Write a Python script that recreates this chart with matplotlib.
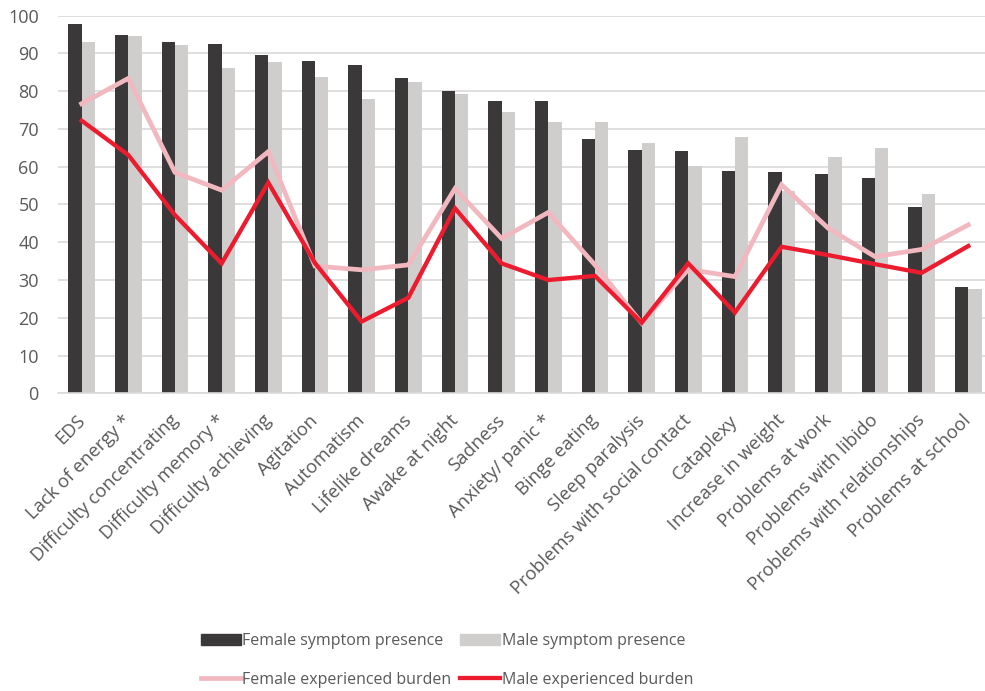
import numpy as np
import matplotlib.pyplot as plt
import matplotlib.transforms as mtransforms
from matplotlib.lines import Line2D
from matplotlib.patches import Patch

plt.rcParams['font.family'] = ['Open Sans', 'DejaVu Sans']

# symptom categories
categories = ["EDS", "Lack of energy *", "Difficulty concentrating", "Difficulty memory *",
              "Difficulty achieving", "Agitation", "Automatism", "Lifelike dreams",
              "Awake at night", "Sadness", "Anxiety/ panic *", "Binge eating",
              "Sleep paralysis", "Problems with social contact", "Cataplexy",
              "Increase in weight", "Problems at work", "Problems with libido",
              "Problems with relationships", "Problems at school"]

female_presence = [97.8, 95.0, 93.1, 92.4, 89.5, 87.9, 86.9, 83.5, 80.1, 77.3,
                   77.3, 67.3, 64.4, 64.2, 58.9, 58.5, 58.2, 56.9, 49.3, 28.1]
male_presence = [93.0, 94.5, 92.2, 86.1, 87.7, 83.8, 77.9, 82.4, 79.3, 74.4,
                 71.8, 71.8, 66.3, 60.3, 67.9, 53.6, 62.6, 64.9, 52.7, 27.5]
female_burden = [76.7, 83.4, 58.5, 53.8, 64.0, 33.7, 32.7, 34.0, 54.2, 41.0,
                 47.9, 34.0, 18.6, 32.8, 30.9, 55.2, 43.7, 36.2, 38.1, 44.6]
male_burden = [72.2, 63.1, 47.2, 34.4, 55.8, 34.5, 19.0, 25.3, 49.0, 34.4,
               30.0, 31.1, 18.7, 34.4, 21.4, 38.8, 36.6, 34.2, 31.9, 39.0]

dark = "#3a3839"
light = "#d0cecd"
pink = "#f2b8c0"
red = "#ed1b2e"
txt = "#595959"

fig = plt.figure(figsize=(9.85, 6.91), dpi=100)
ax = fig.add_axes([58.3/985, 1-393.3/691, (991.6-58.3)/985, (393.3-15.7)/691])

x = np.arange(len(categories))
w = 0.286
ax.bar(x - w/2, female_presence, w, color=dark, zorder=2)
ax.bar(x + w/2, male_presence, w, color=light, zorder=2)
ax.plot(x, female_burden, color=pink, lw=3.4, zorder=3, solid_joinstyle='miter')
ax.plot(x, male_burden, color=red, lw=3.1, zorder=4, solid_joinstyle='miter')

ax.set_xlim(-0.5, len(categories) - 0.5)
ax.set_ylim(0, 100)
ax.set_yticks(np.arange(0, 101, 10))
ax.yaxis.grid(True, color="#d9d9d9", lw=1.2, zorder=0)
ax.set_axisbelow(True)
for s in ["top", "right", "left"]:
    ax.spines[s].set_visible(False)
ax.spines["bottom"].set_color("#d9d9d9")
ax.spines["bottom"].set_linewidth(1.2)
ax.tick_params(axis="y", length=0, pad=14, labelsize=13, labelcolor=txt)
ax.tick_params(axis="x", length=0, pad=13)
ax.set_xticks(x)
ax.set_xticklabels(categories, rotation=45, ha="right", va="top",
                   rotation_mode="anchor", fontsize=13.3, color=txt)
shift = mtransforms.ScaledTranslation(-0.06, 0, fig.dpi_scale_trans)
for lab in ax.get_xticklabels():
    lab.set_transform(lab.get_transform() + shift)

# column-major order so rows read bars / lines
handles = [Patch(color=dark), Line2D([], [], color=pink, lw=3.4),
           Patch(color=light), Line2D([], [], color=red, lw=3.1)]
labels = ["Female symptom presence", "Female experienced burden",
          "Male symptom presence", "Male experienced burden"]
leg = fig.legend(handles, labels, ncol=2, loc="center", bbox_to_anchor=(447/985, 1-660.5/691),
                 frameon=False, fontsize=11.5, handlelength=2.5, handleheight=0.7,
                 handletextpad=0.1, columnspacing=0.55, labelspacing=1.45)
for t in leg.get_texts():
    t.set_color(txt)

fig.savefig("out.png", dpi=100)
